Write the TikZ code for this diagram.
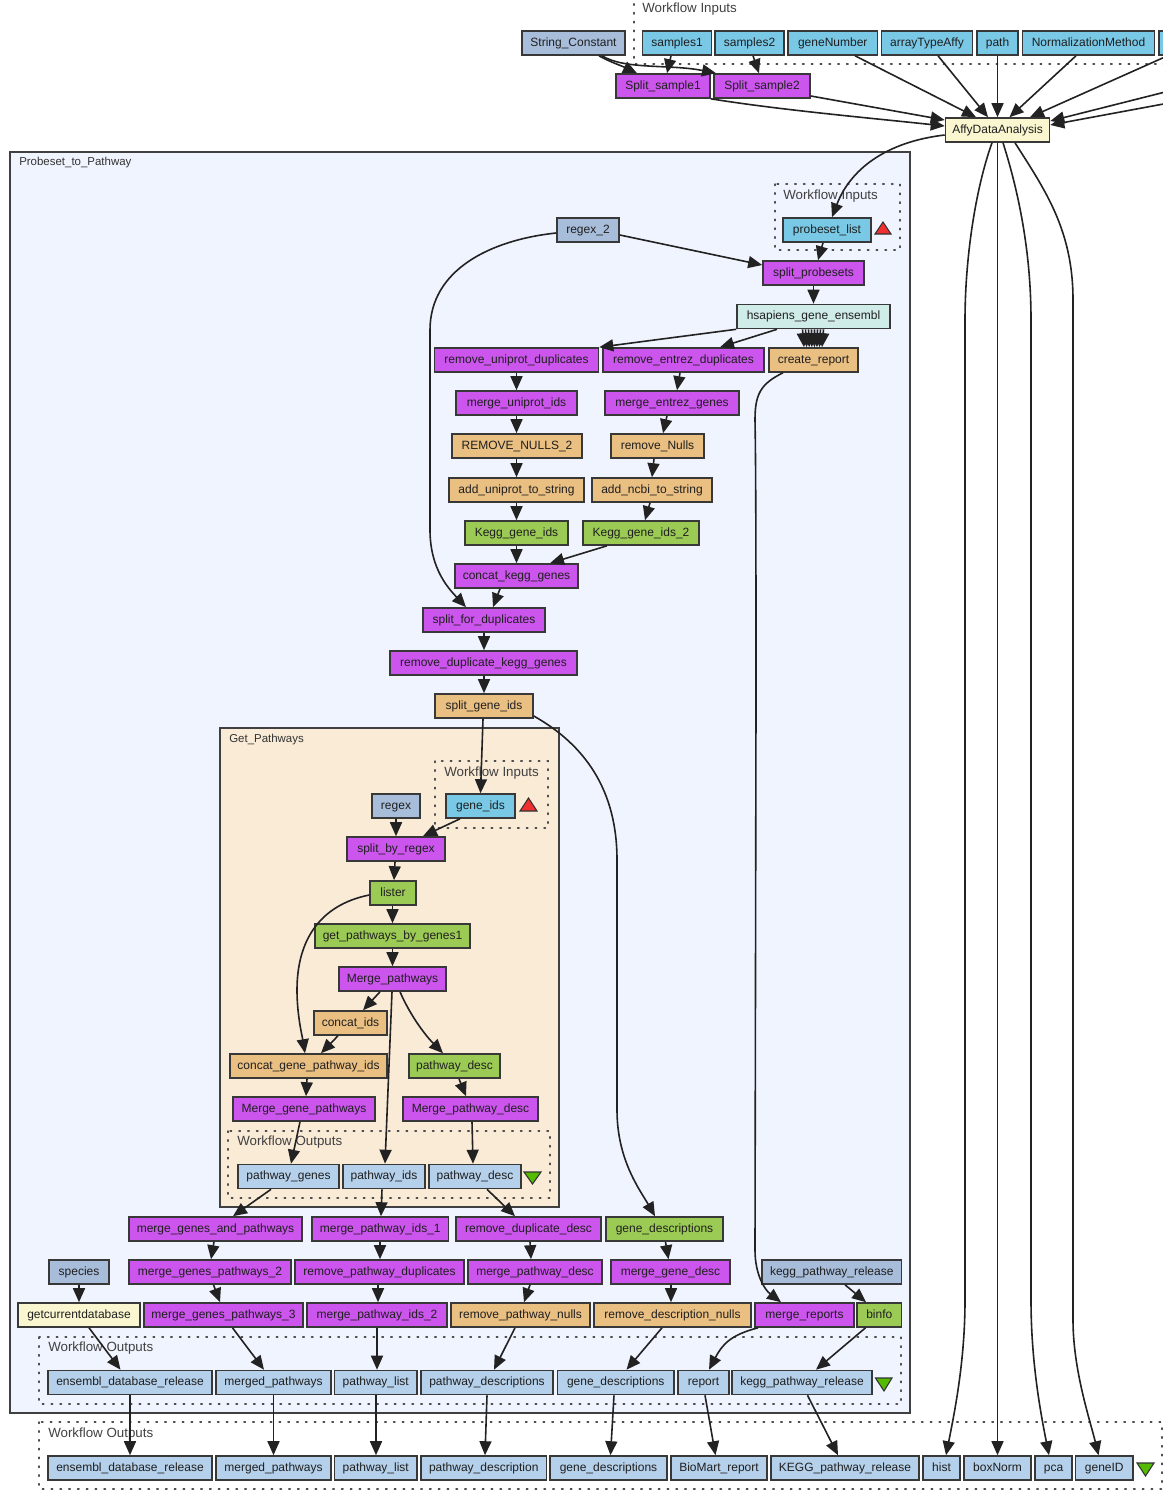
\documentclass[tikz,border=0pt]{standalone}
\usepackage{fontspec}
\setmainfont{Liberation Sans}
\usetikzlibrary{arrows.meta,calc}
\definecolor{cproc}{HTML}{CC55EE}
\definecolor{cinp}{HTML}{78C8E6}
\definecolor{cgreen}{HTML}{9CCB55}
\definecolor{ctan}{HTML}{EABF82}
\definecolor{cconst}{HTML}{A8BDDA}
\definecolor{cout}{HTML}{B5D0EA}
\definecolor{cyel}{HTML}{FAF6D0}
\definecolor{cbio}{HTML}{D0ECE8}
\definecolor{cclusterA}{HTML}{F0F4FF}
\definecolor{cclusterB}{HTML}{FAEBD7}
\definecolor{cline}{HTML}{222222}
\definecolor{credT}{HTML}{F03030}
\definecolor{cgrnT}{HTML}{55BB00}
\tikzset{
 x=0.75pt,y=-0.75pt,
 box/.style={draw=cline!90,line width=1.2pt,inner sep=0pt,minimum height=18pt,text height=6.4pt,text depth=1.6pt,text=black!88,font=\fontsize{9}{10}\selectfont},
 procb/.style={box,fill=cproc},
 inpb/.style={box,fill=cinp},
 grnb/.style={box,fill=cgreen},
 tanb/.style={box,fill=ctan},
 cstb/.style={box,fill=cconst},
 outb/.style={box,fill=cout},
 yelb/.style={box,fill=cyel},
 biob/.style={box,fill=cbio},
 edge/.style={draw=cline,line width=1.2pt,-{Triangle[length=10.5pt,width=9pt]}},
 wf/.style={draw=cline!80,line width=1.1pt,dash pattern=on 1.1pt off 5.5pt,line cap=round},
 wftext/.style={anchor=west,inner sep=0pt,text=black!75,font=\fontsize{10}{11}\selectfont},
 cltext/.style={anchor=west,inner sep=0pt,text=black!80,font=\fontsize{8.6}{10}\selectfont},
 cluster/.style={draw=black!75,line width=1.2pt},
 upT/.style={fill=credT,draw=black!80,line width=.8pt},
 dnT/.style={fill=cgrnT,draw=black!80,line width=.8pt},
}
\newcommand\B[6]{\node[#5,minimum width={(#3-#2)*0.75pt}] (#1) at ({(#2+#3)/2},#4) {#6};}
\newcommand\E[4]{\draw[edge] (#1.south -| #2,0) -- (#3.north -| #4,0);}
\begin{document}
\begin{tikzpicture}
\useasboundingbox (0,0) rectangle (1163,1495);
\clip (0,0) rectangle (1163,1495);
% clusters
\draw[cluster,fill=cclusterA] (10,152) rectangle (910,1413);
\node[cltext] (lblA) at (19,163) {Probeset\_to\_Pathway};
\draw[cluster,fill=cclusterB] (220,728) rectangle (559,1207);
\node[cltext] (lblB) at (229,740) {Get\_Pathways};
% dotted frames
\draw[wf] (634,-5) -- (634,64) -- (1170,64);
\node[wftext] (wfA) at (642,9) {Workflow Inputs};
\draw[wf] (775,184) rectangle (900,250);
\node[wftext] (wfB) at (783,196) {Workflow Inputs};
\draw[wf] (435,761) rectangle (548,828);
\node[wftext] (wfC) at (444,773) {Workflow Inputs};
\draw[wf] (228,1131) rectangle (550,1198);
\node[wftext] (wfD) at (237,1142) {Workflow Outputs};
\draw[wf] (39,1337) rectangle (901,1404);
\node[wftext] (wfE) at (48,1348) {Workflow Outputs};
\draw[wf] (39,1422) rectangle (1162,1489);
\node[wftext] (wfF) at (48,1434) {Workflow Outputs};
% triangles
\draw[upT] (875,234) -- (891,234) -- (883,222) -- cycle;
\draw[upT] (520,811) -- (537,811) -- (528.5,798) -- cycle;
\draw[dnT] (524,1172) -- (541,1172) -- (532.5,1184) -- cycle;
\draw[dnT] (875.5,1378) -- (892,1378) -- (884,1391) -- cycle;
\draw[dnT] (1137,1463) -- (1154,1463) -- (1145.5,1476) -- cycle;
% top
\B{sconst}{522}{625}{43}{cstb}{String\_Constant}
\B{samples1}{642.5}{711.5}{43}{inpb}{samples1}
\B{samples2}{715}{784}{43}{inpb}{samples2}
\B{geneNumber}{788}{877.5}{43}{inpb}{geneNumber}
\B{arrayType}{881.5}{972.5}{43}{inpb}{arrayTypeAffy}
\B{path}{977}{1018}{43}{inpb}{path}
\B{norm}{1022.5}{1154.5}{43}{inpb}{NormalizationMethod}
\B{nextinp}{1159}{1260}{43}{inpb}{}
\B{split1}{616}{710}{86}{procb}{Split\_sample1}
\B{split2}{714}{810}{86}{procb}{Split\_sample2}
\B{affy}{945.5}{1049.5}{130}{yelb}{AffyDataAnalysis}
% probeset
\B{probeset}{783}{871}{230}{inpb}{probeset\_list}
\B{regexB}{557}{619}{230}{cstb}{regex\_2}
\B{splitprobe}{763}{864}{273}{procb}{split\_probesets}
\B{hsap}{737}{890}{316.5}{biob}{hsapiens\_gene\_ensembl}
\B{rmuni}{434.5}{598.5}{360}{procb}{remove\_uniprot\_duplicates}
\B{rment}{603}{764}{360}{procb}{remove\_entrez\_duplicates}
\B{createrep}{769}{858}{360}{tanb}{create\_report}
\B{mguni}{456}{577}{403}{procb}{merge\_uniprot\_ids}
\B{mgent}{605}{739}{403}{procb}{merge\_entrez\_genes}
\B{rmnullB}{452}{582}{446}{tanb}{REMOVE\_NULLS\_2}
\B{rmnull}{611}{704}{446}{tanb}{remove\_Nulls}
\B{adduni}{449}{584}{490}{tanb}{add\_uniprot\_to\_string}
\B{addncbi}{592}{712}{490}{tanb}{add\_ncbi\_to\_string}
\B{kegg}{465}{568}{533}{grnb}{Kegg\_gene\_ids}
\B{keggB}{583}{699}{533}{grnb}{Kegg\_gene\_ids\_2}
\B{concatkegg}{455}{578}{576}{procb}{concat\_kegg\_genes}
\B{splitdup}{423}{545}{620}{procb}{split\_for\_duplicates}
\B{rmdup}{390}{577}{663}{procb}{remove\_duplicate\_kegg\_genes}
\B{splitgene}{435}{533}{706}{tanb}{split\_gene\_ids}
% get pathways
\B{regex}{372}{420}{806}{cstb}{regex}
\B{geneids}{446}{515}{806}{inpb}{gene\_ids}
\B{splitregex}{347}{445}{849}{procb}{split\_by\_regex}
\B{lister}{370}{416}{893}{grnb}{lister}
\B{getpath}{315}{470}{936}{grnb}{get\_pathways\_by\_genes1}
\B{mergepath}{339}{446}{979}{procb}{Merge\_pathways}
\B{concatids}{314}{387}{1023}{tanb}{concat\_ids}
\B{concatgene}{230}{387}{1066}{tanb}{concat\_gene\_pathway\_ids}
\B{pdesc}{409}{500}{1066}{grnb}{pathway\_desc}
\B{mgp}{233}{375}{1109}{procb}{Merge\_gene\_pathways}
\B{mpd}{403}{538}{1109}{procb}{Merge\_pathway\_desc}
\B{pgenes}{238}{339}{1176.5}{outb}{pathway\_genes}
\B{pids}{343}{425}{1176.5}{outb}{pathway\_ids}
\B{pdescout}{429}{521}{1176.5}{outb}{pathway\_desc}
% lower rows
\B{mgap}{129}{302}{1229}{procb}{merge\_genes\_and\_pathways}
\B{mpidA}{312}{448.5}{1229}{procb}{merge\_pathway\_ids\_1}
\B{rdd}{456}{601}{1229}{procb}{remove\_duplicate\_desc}
\B{gdesc}{606}{723}{1229}{grnb}{gene\_descriptions}
\B{species}{49}{109}{1272}{cstb}{species}
\B{mgpB}{129}{291}{1272}{procb}{merge\_genes\_pathways\_2}
\B{rpd}{295}{464}{1272}{procb}{remove\_pathway\_duplicates}
\B{mpdB}{468}{602}{1272}{procb}{merge\_pathway\_desc}
\B{mgd}{611}{730}{1272}{procb}{merge\_gene\_desc}
\B{kpr}{762}{901.5}{1272}{cstb}{kegg\_pathway\_release}
\B{getdb}{18}{140}{1315}{yelb}{getcurrentdatabase}
\B{mgpC}{144}{303}{1315}{procb}{merge\_genes\_pathways\_3}
\B{mpidB}{307}{447}{1315}{procb}{merge\_pathway\_ids\_2}
\B{rpn}{451}{590}{1315}{tanb}{remove\_pathway\_nulls}
\B{rdn}{594}{751}{1315}{tanb}{remove\_description\_nulls}
\B{mrep}{755}{854}{1315}{procb}{merge\_reports}
\B{binfo}{857}{901.5}{1315}{grnb}{binfo}
% inner outputs
\B{oensA}{48}{212}{1382.5}{outb}{ensembl\_database\_release}
\B{ompA}{216}{331}{1382.5}{outb}{merged\_pathways}
\B{oplA}{334.5}{417}{1382.5}{outb}{pathway\_list}
\B{opdA}{421}{553}{1382.5}{outb}{pathway\_descriptions}
\B{ogdA}{557.5}{674}{1382.5}{outb}{gene\_descriptions}
\B{orepA}{678}{729}{1382.5}{outb}{report}
\B{okrA}{732}{872}{1382.5}{outb}{kegg\_pathway\_release}
% outer outputs
\B{oensB}{48}{212}{1468}{outb}{ensembl\_database\_release}
\B{ompB}{216}{331}{1468}{outb}{merged\_pathways}
\B{oplB}{334.5}{417}{1468}{outb}{pathway\_list}
\B{opdB}{421}{546.5}{1468}{outb}{pathway\_description}
\B{ogdB}{550}{667}{1468}{outb}{gene\_descriptions}
\B{obm}{671}{767}{1468}{outb}{BioMart\_report}
\B{okrB}{771}{919}{1468}{outb}{KEGG\_pathway\_release}
\B{ohist}{923}{960}{1468}{outb}{hist}
\B{obox}{964}{1031}{1468}{outb}{boxNorm}
\B{opca}{1035}{1072}{1468}{outb}{pca}
\B{ogid}{1075.5}{1133}{1468}{outb}{geneID}
% free ends off the right edge
\coordinate (offA) at (1185,48);
\coordinate (offB) at (1185,87);
\coordinate (offC) at (1185,100);
% edges top
\draw[edge] (sconst.south -| 599,0) .. controls (610,62) and (622,66) .. (split1.north -| 637,0);
\draw[edge] (sconst.south -| 602,0) .. controls (625,70) and (670,64) .. (split2.north -| 716,0);
\E{samples1}{671}{split1}{667}
\E{samples2}{753}{split2}{759}
\E{geneNumber}{855}{affy}{976}
\E{arrayType}{938}{affy}{988}
\E{path}{997.5}{affy}{997.5}
\E{norm}{1076}{affy}{1009.5}
\draw[edge] (offA) -- (affy.north -| 1030,0);
\draw[edge] (offB) -- ($(affy.east)+(0,-9)$);
\draw[edge] (offC) -- ($(affy.east)+(0,-5)$);
\draw[edge] (split1.south east) .. controls (780,110) and (870,118) .. ($(affy.west)+(0,-4)$);
\draw[edge] ($(split2.east)+(0,10)$) -- ($(affy.west)+(0,-10)$);
\draw[edge] ($(affy.west)+(0,5)$) .. controls (885,142) and (850,170) .. (probeset.north -| 832,0);
\draw[edge] (affy.south -| 992,0) .. controls (975,190) and (965,260) .. (965,320) -- (965,1300) .. controls (965,1360) and (955,1410) .. (ohist.north -| 946,0);
\draw[edge] (affy.south -| 997.5,0) -- (obox.north -| 997.5,0);
\draw[edge] (affy.south -| 1003,0) .. controls (1018,190) and (1031,250) .. (1031,320) -- (1031,1300) .. controls (1031,1360) and (1040,1410) .. (opca.north -| 1049,0);
\draw[edge] (affy.south -| 1015,0) .. controls (1045,190) and (1073,230) .. (1073,300) -- (1073,1320) .. controls (1073,1370) and (1090,1420) .. (ogid.north -| 1098.5,0);
% probeset edges
\E{probeset}{823}{splitprobe}{818}
\draw[edge] (regexB.east |- 0,235) -- (splitprobe.west |- 0,265);
\draw[edge] (regexB.west |- 0,233) .. controls (490,240) and (430,270) .. (430,330) -- (430,530) .. controls (430,570) and (450,590) .. (splitdup.north -| 466,0);
\E{splitprobe}{813.5}{hsap}{813.5}
\draw[edge] (hsap.south west) -- (rmuni.north east);
\E{hsap}{777}{rment}{720}
\foreach \a/\b in {802.5/804,805.5/806.7,808.5/809.2,811.5/811.8,814.5/814.4,817.5/816.9,820.5/819.4,823.5/822}{\draw[edge] (hsap.south -| \a,0) -- (createrep.north -| \b,0);}
\draw[edge] (createrep.south -| 783,0) .. controls (760,384) and (755,395) .. (755,420) .. controls (756,470) and (756,600) .. (756,700) -- (755,1250) .. controls (755,1275) and (765,1290) .. (mrep.north -| 781,0);
\E{rmuni}{516.5}{mguni}{516.5}
\E{rment}{680}{mgent}{677}
\E{mguni}{516.5}{rmnullB}{516.5}
\E{mgent}{667}{rmnull}{663}
\E{rmnullB}{516.5}{adduni}{516.5}
\E{rmnull}{654}{addncbi}{652}
\E{adduni}{516.5}{kegg}{516.5}
\E{addncbi}{650}{keggB}{645}
\E{kegg}{516.5}{concatkegg}{516.5}
\E{keggB}{607}{concatkegg}{550}
\E{concatkegg}{500}{splitdup}{493}
\E{splitdup}{484}{rmdup}{484}
\E{rmdup}{484}{splitgene}{484}
\E{splitgene}{483}{geneids}{480.5}
\draw[edge] ($(splitgene.east)+(0,10)$) .. controls (585,745) and (617,790) .. (617,860) -- (617,1110) .. controls (617,1160) and (640,1190) .. (gdesc.north -| 655,0);
% get pathways
\E{regex}{396}{splitregex}{396}
\E{geneids}{460}{splitregex}{423}
\E{splitregex}{395}{lister}{394}
\E{lister}{392.5}{getpath}{392.5}
\draw[edge] (lister.west |- 0,895) .. controls (320,905) and (297,940) .. (297,990) .. controls (297,1015) and (302,1035) .. (concatgene.north -| 305,0);
\E{getpath}{392.5}{mergepath}{392.5}
\E{mergepath}{380}{concatids}{363}
\E{concatids}{338}{concatgene}{321}
\E{mergepath}{392}{pids}{385}
\draw[edge] (mergepath.south -| 400,0) .. controls (410,1015) and (425,1035) .. (pdesc.north -| 443,0);
\E{concatgene}{307}{mgp}{306}
\E{pdesc}{459}{mpd}{466}
\E{mgp}{300}{pgenes}{291}
\E{mpd}{472}{pdescout}{473}
\E{pgenes}{271}{mgap}{233}
\E{pids}{382}{mpidA}{381}
\E{pdescout}{487}{rdd}{515}
% lower
\E{mgap}{214}{mgpB}{211}
\E{mpidA}{380}{rpd}{380}
\E{rdd}{530}{mpdB}{531}
\E{gdesc}{665.5}{mgd}{668.5}
\E{species}{79}{getdb}{79}
\E{mgpB}{213.5}{mgpC}{220}
\E{rpd}{378}{mpidB}{378}
\E{mpdB}{530}{rpn}{524}
\E{mgd}{671}{rdn}{671}
\E{kpr}{845}{binfo}{866}
\E{getdb}{89}{oensA}{120.5}
\E{mgpC}{232.5}{ompA}{264}
\E{mpidB}{377}{oplA}{377}
\E{rpn}{515}{opdA}{494}
\E{rdn}{662}{ogdA}{626.5}
\draw[edge] (mrep.south -| 758,0) .. controls (730,1335) and (722,1345) .. (orepA.north -| 709,0);
\E{binfo}{865.5}{okrA}{816}
\E{oensA}{130}{oensB}{130}
\E{ompA}{273.5}{ompB}{273.5}
\E{oplA}{376}{oplB}{376}
\E{opdA}{487}{opdB}{485}
\E{ogdA}{614}{ogdB}{610.5}
\E{orepA}{705}{obm}{715.5}
\E{okrA}{807.5}{okrB}{838}
\end{tikzpicture}
\end{document}
